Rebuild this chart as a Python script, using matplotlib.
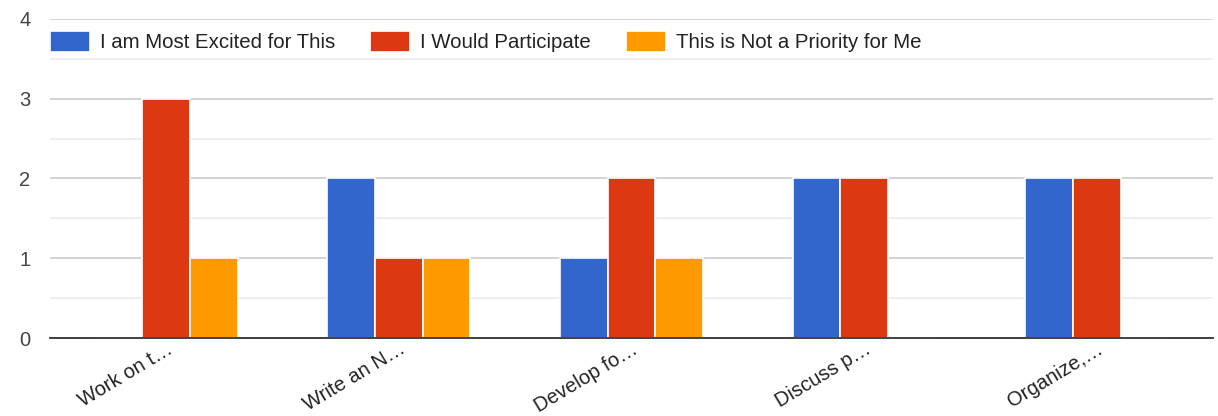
import numpy as np
import matplotlib.pyplot as plt
from matplotlib.ticker import MultipleLocator

plt.rcParams['font.family'] = ['Liberation Sans', 'DejaVu Sans']

categories = ["Work on t…", "Write an N…", "Develop fo…", "Discuss p…", "Organize,…"]
series_names = ["I am Most Excited for This", "I Would Participate", "This is Not a Priority for Me"]
excited = [0, 2, 1, 2, 2]
participate = [3, 1, 2, 2, 2]
not_priority = [1, 1, 1, 0, 0]
colors = ["#3366cc", "#dc3912", "#ff9900"]

fig = plt.figure(figsize=(12.18, 4.16), dpi=100)
ax = fig.add_axes([0.041, 0.1875, 0.955, 0.767])

x = np.arange(len(categories))
w = 0.205
for i, (vals, name, c) in enumerate(zip([excited, participate, not_priority], series_names, colors)):
    ax.bar(x + (i - 1) * w, vals, width=w, color=c, edgecolor='white', linewidth=1.2,
           label=name, zorder=3)

ax.set_xlim(-0.5, len(categories) - 0.5)
ax.set_ylim(0, 4)
ax.yaxis.set_major_locator(MultipleLocator(1))
ax.yaxis.set_minor_locator(MultipleLocator(0.5))
ax.grid(which='major', axis='y', color='#cccccc', linewidth=1.2, zorder=0)
ax.grid(which='minor', axis='y', color='#ebebeb', linewidth=1.2, zorder=0)
for s in ['top', 'right', 'left']:
    ax.spines[s].set_visible(False)
ax.spines['bottom'].set_color('#333333')
ax.spines['bottom'].set_linewidth(1.3)
ax.spines['bottom'].set_zorder(4)

ax.tick_params(axis='y', which='both', length=0, labelsize=14.5, labelcolor='#444444', pad=14)
ax.tick_params(axis='x', length=0, labelsize=14.5, labelcolor='#222222', pad=1)
ax.set_xticks(x)
ax.set_xticklabels(categories, rotation=31, ha='right', rotation_mode='anchor')

leg = ax.legend(loc='upper left', ncol=3, frameon=False, fontsize=14.7,
                bbox_to_anchor=(-0.005, 0.98), handlelength=1.95, handleheight=1.15,
                columnspacing=1.7, handletextpad=0.5, borderaxespad=0.0, borderpad=0.3)
for t in leg.get_texts():
    t.set_color('#222222')

plt.savefig('out.png', dpi=100)
